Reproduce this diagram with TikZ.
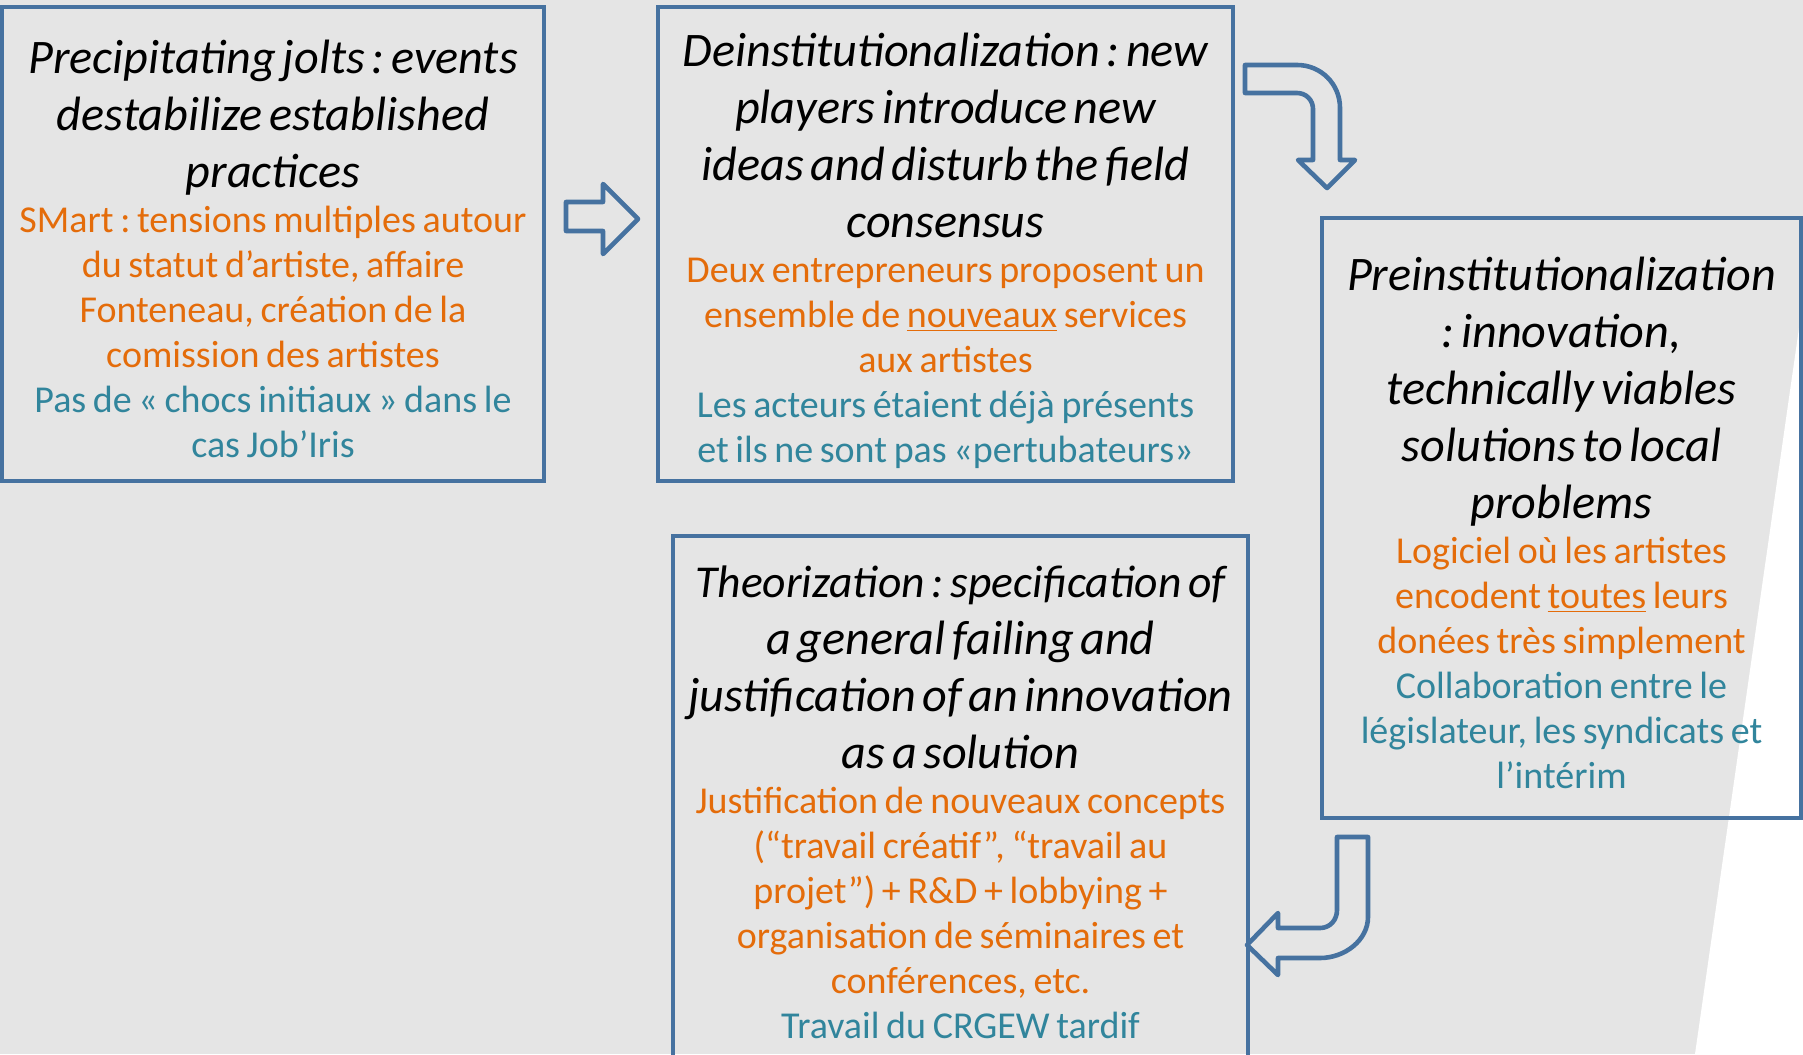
\documentclass[tikz,border=0pt]{standalone}
\usepackage{fontspec}
\setmainfont{Carlito}[ItalicFeatures={WordSpace=1.35}]
\usepackage{xcolor}
\usepackage{tikz}
\frenchspacing

\definecolor{frameblue}{HTML}{4672A0}
\definecolor{caseorange}{HTML}{E46C0A}
\definecolor{noteteal}{HTML}{31859C}
\definecolor{slidegray}{HTML}{E5E5E5}

\newcommand{\stagefont}{\fontsize{24.1}{28.5}\selectfont\itshape\color{black}}
\newcommand{\casefont}{\fontsize{19}{22.5}\selectfont\upshape\color{caseorange}}
\newcommand{\notefont}{\fontsize{19}{22.5}\selectfont\upshape\color{noteteal}}

\begin{document}
\begin{tikzpicture}[
    x=0.5pt, y=-0.5pt,
    stage/.style={draw=frameblue, line width=2pt, inner sep=0pt},
    stagetext/.style={align=center, inner sep=0pt},
    bigarrow/.style={draw=frameblue, line width=2.3pt, line join=round},
]
    % Slide background
    \useasboundingbox (0,0) rectangle (1803,1054);
    \clip (0,0) rectangle (1803,1054);
    \fill[slidegray] (0,0) rectangle (1803,1054);
    \fill[white] (1803,300) -- (1803,1054) -- (1695,1054) -- cycle;

    % Stage frames
    \node[stage, minimum width=271pt, minimum height=237pt] (jolts) at (273,244) {};
    \node[stage, minimum width=287.5pt, minimum height=237pt] (deinst) at (945.5,244) {};
    \node[stage, minimum width=239.5pt, minimum height=300pt] (preinst) at (1561.5,518) {};
    \node[stage, minimum width=287.5pt, minimum height=267pt] (theory) at (960.5,803) {};

    % Stage contents
    \node[stagetext, text width=268pt] (joltstext) at ([yshift=-2.5pt]jolts.center) {
        {\stagefont Precipitating jolts : events\\ destabilize established\\ practices\par}
        {\casefont SMart : tensions multiples autour\\ du statut d’artiste, affaire\\ Fonteneau, création de la\\ comission des artistes\par}
        {\notefont Pas de « chocs initiaux » dans le\\ cas Job’Iris\par}};
    \node[stagetext, text width=284pt] (deinsttext) at ([yshift=-3.5pt]deinst.center) {
        {\stagefont Deinstitutionalization : new\\ players introduce new\\ ideas and disturb the field\\ consensus\par}
        {\casefont Deux entrepreneurs proposent un\\ ensemble de \underline{nouveaux} services\\ aux artistes\par}
        {\notefont Les acteurs étaient déjà présents\\ et ils ne sont pas «pertubateurs»\par}};
    \node[stagetext, text width=237pt] (preinsttext) at ([yshift=-2.5pt]preinst.center) {
        {\stagefont Preinstitutionalization\\ : innovation,\\ technically viables\\ solutions to local\\ problems\par}
        {\casefont Logiciel où les artistes\\ encodent \underline{toutes} leurs\\ donées très simplement\par}
        {\notefont Collaboration entre le\\ législateur, les syndicats et\\ l’intérim\par}};
    \node[stagetext, text width=284pt] (theorytext) at ([yshift=0.5pt]theory.center) {
        {\stagefont {\fontsize{22.8}{28.5}\selectfont Theorization : specification of}\\ a general failing and\\ justification of an innovation\\ as a solution\par}
        {\casefont Justification de nouveaux concepts\\ (“travail créatif”, “travail au\\ projet”) + R\&D + lobbying +\\ organisation de séminaires et\\ conférences, etc.\par}
        {\notefont Travail du CRGEW tardif\par}};

    % Block arrows between stages
    \draw[bigarrow] (566,202) -- (603,202) -- (603,184) -- (638,219) -- (603,254)
        -- (603,231) -- (566,231) -- cycle;
    \draw[bigarrow] (1245,65) -- (1297,65) .. controls (1321,65) and (1340,84) .. (1340,108)
        -- (1340,160) -- (1355,160) -- (1327,188) -- (1298,160) -- (1313,160) -- (1313,109)
        .. controls (1313,100) and (1306,93) .. (1297,93) -- (1245,93) -- cycle;
    \draw[bigarrow] (1337,837) -- (1368,837) -- (1368,917) .. controls (1368,940) and (1345,958) .. (1320,958)
        -- (1278,958) -- (1278,975) -- (1247,945) -- (1278,913) -- (1278,928) -- (1320,928)
        .. controls (1330,928) and (1337,920) .. (1337,910) -- cycle;
\end{tikzpicture}
\end{document}
